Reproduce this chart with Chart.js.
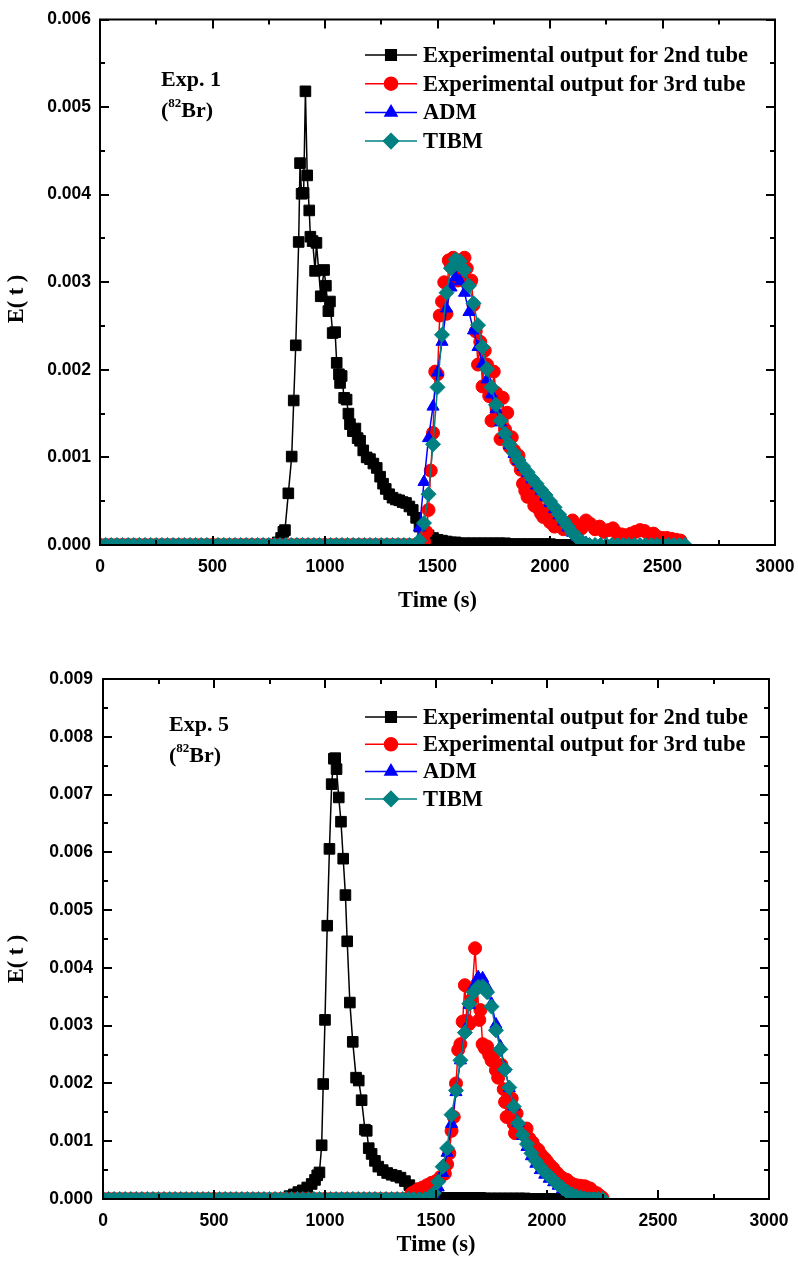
<!DOCTYPE html>
<html>
<head>
<meta charset="utf-8">
<title>E(t) curves, Exp. 1 and Exp. 5</title>
<script src="https://cdn.jsdelivr.net/npm/chart.js@4.4.0/dist/chart.umd.min.js"></script>
<style>
  html, body { margin: 0; padding: 0; background: #fff; }
  canvas { display: block; }
</style>
</head>
<body>
<canvas id="exp1" width="798" height="633"></canvas>
<canvas id="exp5" width="798" height="634"></canvas>
<script>
const X_MAX = 3000
const seriesNames = ['Experimental output for 2nd tube', 'Experimental output for 3rd tube', 'ADM', 'TIBM']

// ---- Exp. 1 (top panel) ----
const exp1Tube2Time = [0,25,50,75,100,125,150,175,200,225,250,275,300,325,350,375,400,425,450,475,500,525,550,575,600,625,650,675,700,725,750,775,
  790,805,815,822,837,852,861,870,883,889,896,905,913,921,930,935,945,956,962,981,996,1004,1015,1022,1034,1045,1052,1062,1067,1074,
  1085,1096,1104,1111,1124,1135,1145,1156,1170,1185,1200,1215,1230,1245,1258,1270,1285,1300,1315,1330,1345,1360,1375,1390,1405,1420,
  1440,1460,1480,1500,1520,1540,1560,1580,
  1600,1625,1650,1675,1700,1725,1750,1775,1800,1825,1850,1875,1900,1925,1950,1975,2000,2025,2050,2075,2100,2125,2150]
const exp1Tube2 = [0,0,0,0,0,0,0,0,0,0,0,0,0,0,0,0,0,0,0,0,0,0,0,0,0,0,0,0,0,0,0,0,
  0.00003,0.00008,0.00015,0.00017,0.00059,0.00101,0.00165,0.00228,0.00346,0.00436,0.00401,0.00402,0.00518,0.00422,0.00382,0.00352,0.00347,0.00313,0.00345,0.00284,
  0.00314,0.00296,0.00267,0.00278,0.00242,0.00243,0.00208,0.00195,0.00185,0.00193,0.00168,0.00166,0.0015,0.00138,0.0013,0.00133,0.00122,0.00119,0.00108,0.001,
  0.00098,0.00093,0.00088,0.00078,0.0007,0.00064,0.00058,0.00054,0.00052,0.00051,0.00049,0.00048,0.00044,0.0004,0.00031,0.00021,0.00015,0.00011,0.00008,0.00006,
  0.00005,0.00004,0.00003,0.00003,
  0.00002,0.00002,0.00002,0.00002,0.00002,0.00002,0.00002,0.00002,0.00002,0.00001,0.00001,0.00001,0.00001,0.00001,0.00001,0.00001,0.00001,0,0,0,0,0,0]

const exp1Tube3Time = [0,25,50,75,100,125,150,175,200,225,250,275,300,325,350,375,400,425,450,475,500,525,550,575,600,625,650,675,700,725,
  750,775,800,825,850,875,900,925,950,975,1000,1025,1050,1075,1100,1125,1150,1175,1200,1225,1250,1275,1300,1325,1350,1375,1400,1425,
  1440,1450,1460,1470,1480,1490,1500,1510,1520,1530,1540,1550,1560,1570,1580,1590,1600,1610,1620,1630,
  1640,1650,1660,1670,1680,1690,1700,1710,1720,1730,1740,1750,1760,1770,1780,1790,1800,1810,1820,1830,
  1840,1850,1860,1870,1880,1890,1900,1910,1920,1930,1940,1950,1960,1970,1980,1990,2000,2020,2040,2060,
  2080,2100,2120,2140,2160,2180,2200,2220,2240,2260,2280,2300,2320,2340,2360,2380,2400,2420,2440,2460,
  2480,2500,2520,2540,2560,2580]
const exp1Tube3 = [0,0,0,0,0,0,0,0,0,0,0,0,0,0,0,0,0,0,0,0,0,0,0,0,0,0,0,0,0,0,
  0,0,0,0,0,0,0,0,0,0,0,0,0,0,0,0,0,0,0,0,0,0,0,0,0,0,0,0,
  0.00004,0.00015,0.0004,0.00085,0.00128,0.00198,0.00195,0.00262,0.00278,0.003,0.00264,0.00325,0.00318,0.00328,0.00322,0.00302,0.00308,0.00318,0.00328,0.00316,
  0.00298,0.00302,0.00274,0.00244,0.00206,0.00232,0.00181,0.00222,0.00206,0.0017,0.00142,0.00198,0.00174,0.00148,0.00121,0.00168,0.00132,0.00151,0.00112,0.00123,
  0.00108,0.00097,0.00102,0.00086,0.0007,0.00062,0.00055,0.00066,0.00058,0.00045,0.00052,0.00041,0.00036,0.00032,0.0004,0.00033,0.00026,0.00021,0.00024,0.00018,
  0.00022,0.00028,0.00022,0.00019,0.00028,0.00024,0.00018,0.00021,0.00015,0.00017,0.00019,0.00013,0.00012,0.00011,0.00013,0.00015,0.00017,0.00016,0.00012,0.00013,
  0.00009,0.00008,0.00008,0.00007,0.00006,0.00005]

const exp1ModelTime = [0,25,50,75,100,125,150,175,200,225,250,275,300,325,350,375,400,425,450,475,500,525,550,575,600,625,650,675,700,725,
  750,775,800,825,850,875,900,925,950,975,1000,1025,1050,1075,1100,1125,1150,1175,1200,1225,1250,1275,1300,1325,1350,1375,1400,
  1420,1440,1460,1480,1500,1520,1540,1560,1580,1600,1620,1640,1660,1680,1700,1720,1740,1760,1780,1800,
  1820,1840,1860,1880,1900,1920,1940,1960,1980,2000,2020,2040,2060,2080,2100,2120,2140,2160,
  2175,2200,2225,2250,2275,2300,2325,2350,2375,2400,2425,2450,2475,2500,2525,2550,2575,2600]
const exp1ADM = [0,0,0,0,0,0,0,0,0,0,0,0,0,0,0,0,0,0,0,0,0,0,0,0,0,0,0,0,0,0,
  0,0,0,0,0,0,0,0,0,0,0,0,0,0,0,0,0,0,0,0,0,0,0,0,0,0,0,
  0.0002,0.00072,0.00122,0.00158,0.00197,0.00232,0.0027,0.00294,0.00306,0.00301,0.00288,0.00266,0.00245,0.00226,0.00207,0.00189,0.00172,0.00155,0.0014,0.00126,
  0.00114,0.00104,0.00096,0.00089,0.00082,0.00075,0.00068,0.00062,0.00055,0.00048,0.00041,0.00034,0.00027,0.0002,0.00014,0.00009,0.00005,0.00002,
  0,0,0,0,0,0,0,0,0,0,0,0,0,0,0,0,0,0]
const exp1TIBM = [0,0,0,0,0,0,0,0,0,0,0,0,0,0,0,0,0,0,0,0,0,0,0,0,0,0,0,0,0,0,
  0,0,0,0,0,0,0,0,0,0,0,0,0,0,0,0,0,0,0,0,0,0,0,0,0,0,0,
  0.00005,0.00025,0.00058,0.00115,0.0018,0.0024,0.00288,0.00316,0.00326,0.00324,0.00314,0.00296,0.00276,0.00251,0.00226,0.00201,0.0018,0.0016,0.00142,0.00127,
  0.00115,0.00105,0.00097,0.0009,0.00083,0.00076,0.0007,0.00063,0.00057,0.0005,0.00043,0.00035,0.00028,0.00021,0.00014,0.00009,0.00004,0.00001,
  0,0,0,0,0,0,0,0,0,0,0,0,0,0,0,0,0,0]

// ---- Exp. 5 (bottom panel) ----
const exp5Tube2Time = [0,25,50,75,100,125,150,175,200,225,250,275,300,325,350,375,400,425,450,475,500,525,550,575,600,625,650,675,700,725,750,775,800,825,
  840,860,880,900,920,940,955,965,975,985,992,1000,1010,1020,1030,1040,1046,1052,1062,1072,
  1082,1092,1100,1112,1125,1140,1152,1165,1180,1188,1197,1210,1225,1240,1260,1280,1300,1320,1340,1360,
  1380,1400,1420,1440,1460,1480,1500,
  1525,1550,1575,1600,1625,1650,1675,1700,1725,1750,1775,1800,1825,1850,1875,1900,1925,1950,1975,2000,2025,2050,2075]
const exp5Tube2 = [0,0,0,0,0,0,0,0,0,0,0,0,0,0,0,0,0,0,0,0,0,0,0,0,0,0,0,0,0,0,0,0,0,0,
  0.00005,0.00008,0.00012,0.00015,0.0002,0.00026,0.00033,0.00041,0.00046,0.00093,0.00199,0.0031,0.00473,0.00606,0.00718,0.00762,0.00763,0.00744,0.00695,0.00653,
  0.00589,0.00526,0.00446,0.0034,0.00272,0.0021,0.00205,0.00171,0.0012,0.00118,0.00088,0.00078,0.00066,0.00056,0.0005,0.00045,0.00042,0.0004,0.00037,0.00031,
  0.00024,0.00018,0.00013,0.0001,0.00007,0.00005,0.00004,
  0.00002,0.00002,0.00002,0.00002,0.00002,0.00002,0.00002,0.00002,0.00001,0.00001,0.00001,0.00001,0.00001,0.00001,0.00001,0.00001,0,0,0,0,0,0,0]

const exp5Tube3Time = [0,25,50,75,100,125,150,175,200,225,250,275,300,325,350,375,400,425,450,475,500,525,550,575,600,625,650,675,700,725,
  750,775,800,825,850,875,900,925,950,975,1000,1025,1050,1075,1100,1125,1150,1175,1200,1225,1250,1275,1300,1325,1350,1375,
  1390,1405,1420,1440,1460,1480,1500,1520,1540,1550,1560,1570,1580,1590,1600,1610,1620,1630,1640,1650,
  1660,1676,1685,1695,1700,1710,1720,1730,1740,1750,1760,1770,1780,1795,1805,1811,1818,1830,1841,1850,
  1856,1863,1875,1890,1908,1920,1935,1950,1961,1975,1990,2000,2015,2028,2045,2060,2075,2090,2110,2130,
  2150,2170,2180,2195,2210,2225,2240,2250]
const exp5Tube3 = [0,0,0,0,0,0,0,0,0,0,0,0,0,0,0,0,0,0,0,0,0,0,0,0,0,0,0,0,0,0,
  0,0,0,0,0,0,0,0,0,0,0,0,0,0,0,0,0,0,0,0,0,0,0,0,0,0,
  0.0001,0.00013,0.00017,0.0002,0.00024,0.00028,0.00031,0.00038,0.00044,0.0006,0.00079,0.00118,0.00142,0.002,0.00258,0.00268,0.00307,0.0037,0.00309,0.00303,
  0.00345,0.00434,0.00372,0.0031,0.00327,0.00268,0.00261,0.00264,0.00249,0.0024,0.0025,0.00223,0.0021,0.00232,0.0019,0.00168,0.00142,0.00165,0.00174,0.0013,
  0.00114,0.00148,0.00125,0.0012,0.00122,0.00105,0.00098,0.00088,0.00085,0.00076,0.0007,0.00065,0.00058,0.00053,0.00045,0.00039,0.00035,0.00033,0.00027,0.00024,
  0.00023,0.00022,0.0002,0.00018,0.00012,0.0001,0.00005,0.00002]

const exp5ModelTime = [0,25,50,75,100,125,150,175,200,225,250,275,300,325,350,375,400,425,450,475,500,525,550,575,600,625,650,675,700,725,
  750,775,800,825,850,875,900,925,950,975,1000,1025,1050,1075,1100,1125,1150,1175,1200,1225,1250,1275,1300,1325,1350,1375,1400,1425,1450,
  1470,1490,1510,1530,1550,1570,1590,1610,1630,1650,1670,1690,1710,1730,1750,1770,1790,1810,1830,1850,
  1870,1890,1910,1930,1950,1970,1990,2010,2030,2050,2070,2090,2110,2130,2150,2170,2190,2210,2230,2250]
const exp5ADM = [0,0,0,0,0,0,0,0,0,0,0,0,0,0,0,0,0,0,0,0,0,0,0,0,0,0,0,0,0,0,
  0,0,0,0,0,0,0,0,0,0,0,0,0,0,0,0,0,0,0,0,0,0,0,0,0,0,0,0,0,
  0.00001,0.00005,0.0002,0.00045,0.0008,0.0013,0.00185,0.0024,0.00292,0.00336,0.00368,0.00384,0.00382,0.00366,0.00338,0.00302,0.00264,0.00226,0.00192,0.0016,
  0.00132,0.00109,0.0009,0.00074,0.00061,0.0005,0.00042,0.00035,0.00029,0.00023,0.00017,0.00012,0.00008,0.00005,0.00003,0.00001,0,0,0,0]
const exp5TIBM = [0,0,0,0,0,0,0,0,0,0,0,0,0,0,0,0,0,0,0,0,0,0,0,0,0,0,0,0,0,0,
  0,0,0,0,0,0,0,0,0,0,0,0,0,0,0,0,0,0,0,0,0,0,0,0,0,0,0,0,0,
  0.00003,0.0001,0.0003,0.00056,0.00088,0.00146,0.00188,0.0024,0.00288,0.00338,0.00358,0.00367,0.00368,0.00358,0.00333,0.00292,0.00259,0.00224,0.00193,0.0016,
  0.00131,0.00111,0.00095,0.00079,0.00066,0.00056,0.00047,0.0004,0.00032,0.00025,0.00019,0.00013,0.00009,0.00005,0.00003,0.00001,0,0,0,0]

const seriesStyle = [
  { color: '#000000', pointStyle: 'rect', radius: 7.5, order: 3 },
  { color: '#ff0000', pointStyle: 'circle', radius: 6.5, order: 2 },
  { color: '#0000ff', pointStyle: 'triangle', radius: 7, order: 1 },
  { color: '#008080', pointStyle: 'rectRot', radius: 7.5, order: 0 },
]

const SERIF = '"Liberation Serif", "Times New Roman", serif'
const SANS = '"Liberation Sans", Arial, sans-serif'

function xy(times, values) {
  return times.map((t, i) => ({ x: t, y: values[i] }))
}

// frame with inward ticks, legend box, labels
const overlay = {
  id: 'overlay',
  afterDatasetsDraw(chart, args, o) {
    const { ctx, chartArea: a, scales } = chart
    const xs = scales.x
    const ys = scales.y
    ctx.save()

    ctx.strokeStyle = '#000'
    ctx.lineWidth = 2
    ctx.strokeRect(a.left, a.top, a.right - a.left, a.bottom - a.top)

    ctx.beginPath()
    for (let t = 0; t <= X_MAX; t += 250) {
      const px = Math.round(xs.getPixelForValue(t))
      const len = t % 500 === 0 ? 9 : 5
      ctx.moveTo(px, a.bottom); ctx.lineTo(px, a.bottom - len)
      ctx.moveTo(px, a.top); ctx.lineTo(px, a.top + len)
    }
    const nY = Math.round(o.yMax / 0.0005)
    for (let k = 0; k <= nY; k++) {
      const py = Math.round(ys.getPixelForValue(k * 0.0005))
      const len = k % 2 === 0 ? 9 : 5
      ctx.moveTo(a.left, py); ctx.lineTo(a.left + len, py)
      ctx.moveTo(a.right, py); ctx.lineTo(a.right - len, py)
    }
    ctx.stroke()

    // legend
    ctx.font = 'bold 22.5px ' + SERIF
    ctx.textBaseline = 'middle'
    ctx.textAlign = 'left'
    chart.data.datasets.forEach((ds, i) => {
      const ly = o.legendY + i * o.legendGap
      ctx.strokeStyle = ds.borderColor
      ctx.fillStyle = ds.borderColor
      ctx.lineWidth = 1.5
      ctx.beginPath()
      ctx.moveTo(o.legendX, ly)
      ctx.lineTo(o.legendX + 52, ly)
      ctx.stroke()
      Chart.helpers.drawPoint(ctx, { pointStyle: ds.pointStyle, radius: ds.pointRadius, rotation: 0, borderWidth: 1 }, o.legendX + 26, ly)
      ctx.fillStyle = '#000'
      ctx.fillText(ds.label, o.legendX + 58, ly + 1)
    })

    // experiment label
    ctx.fillStyle = '#000'
    ctx.font = 'bold 22px ' + SERIF
    ctx.fillText(o.expText, o.expX, o.expY)
    let bx = o.expX
    const by = o.expY + 31
    ctx.fillText('(', bx, by)
    bx += ctx.measureText('(').width
    ctx.font = 'bold 13px ' + SERIF
    ctx.fillText('82', bx, by - 7)
    bx += ctx.measureText('82').width
    ctx.font = 'bold 22px ' + SERIF
    ctx.fillText('Br)', bx, by)

    // axis titles
    ctx.font = 'bold 22.5px ' + SERIF
    ctx.textAlign = 'center'
    ctx.fillText('Time (s)', (a.left + a.right) / 2, o.xTitleY)
    ctx.translate(17, o.yTitleY)
    ctx.rotate(-Math.PI / 2)
    ctx.fillText('E( t )', 0, 0)

    ctx.restore()
  },
}

function makeChart(id, series, p) {
  const datasets = series.map((s, i) => ({
    label: seriesNames[i],
    data: xy(s.t, s.v),
    borderColor: seriesStyle[i].color,
    backgroundColor: seriesStyle[i].color,
    borderWidth: 1.5,
    pointStyle: seriesStyle[i].pointStyle,
    pointRadius: seriesStyle[i].radius,
    pointBackgroundColor: seriesStyle[i].color,
    pointBorderColor: seriesStyle[i].color,
    pointBorderWidth: 1,
    tension: 0,
    order: seriesStyle[i].order,
  }))

  return new Chart(document.getElementById(id), {
    type: 'line',
    data: { datasets },
    plugins: [overlay],
    options: {
      responsive: false,
      animation: false,
      layout: { padding: { top: p.padTop, right: p.padRight, left: 0, bottom: 0 } },
      plugins: {
        legend: { display: false },
        tooltip: { enabled: false },
        overlay: p,
      },
      scales: {
        x: {
          type: 'linear',
          min: 0,
          max: X_MAX,
          ticks: {
            stepSize: 500,
            padding: 12,
            color: '#000',
            maxRotation: 0,
            font: { family: SANS, size: 17.5, weight: 'bold' },
            callback: (v) => String(v),
          },
          grid: { display: false, drawTicks: false },
          border: { display: false },
          afterFit: (s) => {
            s.height = p.xHeight
            s.paddingLeft = 0
            s.paddingRight = 0
          },
        },
        y: {
          type: 'linear',
          min: 0,
          max: p.yMax,
          ticks: {
            stepSize: 0.001,
            padding: p.yPad,
            color: '#000',
            font: { family: SANS, size: 17.5, weight: 'bold' },
            callback: (v) => v.toFixed(3),
          },
          grid: { display: false, drawTicks: false },
          border: { display: false },
          afterFit: (s) => { s.width = p.yWidth },
        },
      },
    },
  })
}

makeChart('exp1', [
  { t: exp1Tube2Time, v: exp1Tube2 },
  { t: exp1Tube3Time, v: exp1Tube3 },
  { t: exp1ModelTime, v: exp1ADM },
  { t: exp1ModelTime, v: exp1TIBM },
], {
  yMax: 0.006, padTop: 16, padRight: 23, xHeight: 88, yWidth: 100, yPad: 9,
  legendX: 365, legendY: 55, legendGap: 28.7,
  expText: 'Exp. 1', expX: 161, expY: 80,
  xTitleY: 601, yTitleY: 299,
})

makeChart('exp5', [
  { t: exp5Tube2Time, v: exp5Tube2 },
  { t: exp5Tube3Time, v: exp5Tube3 },
  { t: exp5ModelTime, v: exp5ADM },
  { t: exp5ModelTime, v: exp5TIBM },
], {
  yMax: 0.009, padTop: 46, padRight: 29, xHeight: 68, yWidth: 103, yPad: 10,
  legendX: 365, legendY: 84, legendGap: 27.3,
  expText: 'Exp. 5', expX: 169, expY: 92,
  xTitleY: 612, yTitleY: 326,
})
</script>
</body>
</html>
